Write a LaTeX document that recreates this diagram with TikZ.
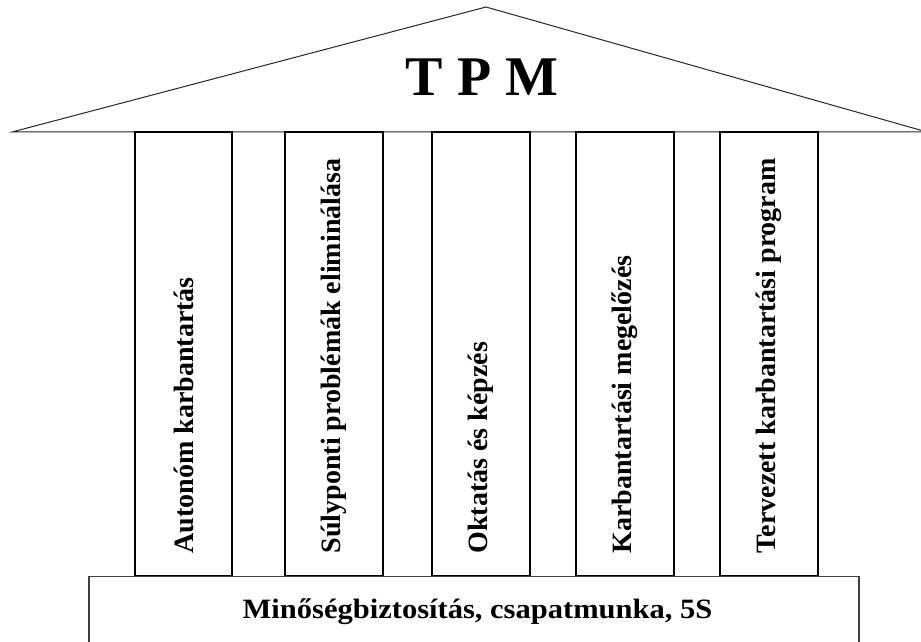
\documentclass[tikz,border=0pt]{standalone}
\usepackage{fontspec}
\setmainfont{Liberation Serif}
\usetikzlibrary{positioning}
\tikzstyle{pillar} = [rectangle,
					  minimum width=98pt,
					  minimum height=444pt,
					  inner sep=0pt,
					  draw=black,
					  line width=1.1pt,
					 ]
\tikzstyle{pillartext} = [rotate=90,
					      anchor=west,
					      inner sep=0pt,
					      font=\fontsize{28}{32}\selectfont\bfseries,
					     ]
\tikzstyle{foundation} = [rectangle,
					      minimum width=770pt,
					      minimum height=70pt,
					      inner sep=0pt,
					      anchor=north,
					      draw=black!75,
					      line width=1.3pt,
					     ]
\tikzstyle{roof} = [draw=black!85, line width=1pt]

\begin{document}
\begin{tikzpicture}[x=1pt, y=1pt]

\useasboundingbox (0,0) rectangle (921,641);
\begin{scope}
\clip (0,0) rectangle (921,641);

% roof
\coordinate (eaves_l) at (12,509);
\coordinate (ridge) at (486,634);
\coordinate (eaves_r) at (927,509);
\draw [roof] (eaves_l) -- (ridge) -- (eaves_r) -- cycle;
\node (title) at (482,564) {\fontsize{56}{60}\selectfont\bfseries T P M};

% pillars
\node (pillar_a) [pillar, minimum width=97pt] at (183.5,287) {};
\node (pillar_b) [pillar] at (334,287) {};
\node (pillar_c) [pillar] at (481,287) {};
\node (pillar_d) [pillar] at (625,287) {};
\node (pillar_e) [pillar] at (769,287) {};

\node (txt_a) [pillartext] at ([yshift=23pt]pillar_a.south) {Autonóm karbantartás};
\node (txt_b) [pillartext] at ([yshift=23pt]pillar_b.south) {Súlyponti problémák eliminálása};
\node (txt_c) [pillartext] at ([yshift=23pt]pillar_c.south) {Oktatás és képzés};
\node (txt_d) [pillartext] at ([yshift=23pt]pillar_d.south) {Karbantartási megelőzés};
\node (txt_e) [pillartext] at ([yshift=23pt]pillar_e.south) {Tervezett karbantartási program};

% base
\node (base) [foundation] at (474,65) {};
\node (base_txt) [anchor=base, xscale=1.09, transform shape] at (477.5,23) {\fontsize{28}{32}\selectfont\bfseries Minőségbiztosítás, csapatmunka, 5S};

\end{scope}
\end{tikzpicture}
\end{document}
